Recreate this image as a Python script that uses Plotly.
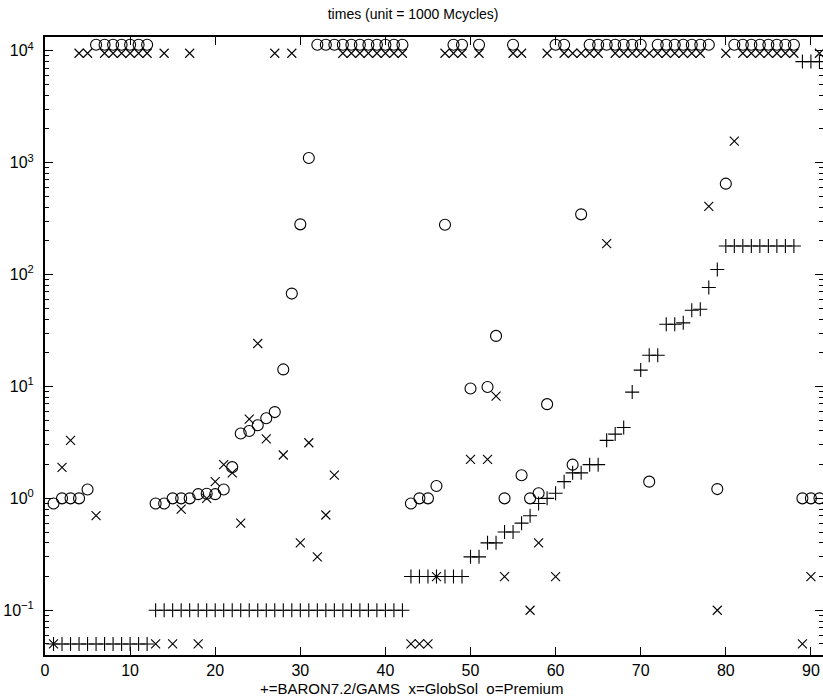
import plotly.graph_objects as go

problems = list(range(1, 92))

baron = [
    0.05, 0.05, 0.05, 0.05, 0.05, 0.05, 0.05, 0.05, 0.05, 0.05,   # 1-10
    0.05, 0.05, 0.1, 0.1, 0.1, 0.1, 0.1, 0.1, 0.1, 0.1,           # 11-20
    0.1, 0.1, 0.1, 0.1, 0.1, 0.1, 0.1, 0.1, 0.1, 0.1,             # 21-30
    0.1, 0.1, 0.1, 0.1, 0.1, 0.1, 0.1, 0.1, 0.1, 0.1,             # 31-40
    0.1, 0.1, 0.2, 0.2, 0.2, 0.2, 0.2, 0.2, 0.2, 0.3,             # 41-50
    0.3, 0.4, 0.4, 0.5, 0.5, 0.6, 0.7, 0.9, 1.0, 1.11,            # 51-60
    1.41, 1.69, 1.69, 2.0, 2.0, 3.3, 3.75, 4.3, 8.9, 14,          # 61-70
    19, 19, 36, 36, 37, 48, 49, 76.5, 111, 180,                   # 71-80
    180, 180, 180, 180, 180, 180, 180, 180, 8000, 8000,           # 81-90
    8000,                                                         # 91
]

globsol = [
    0.05, 1.89, 3.3, 9500, 9500, 0.70, 9500, 9500, 9500, 9500,    # 1-10
    9500, 9500, 0.05, 9500, 0.05, 0.80, 9500, 0.05, 1.0, 1.41,    # 11-20
    2.0, 1.69, 0.60, 5.1, 24.2, 3.4, 9500, 2.44, 9500, 0.40,      # 21-30
    3.14, 0.30, 0.71, 1.61, 9500, 9500, 9500, 9500, 9500, 9500,   # 31-40
    9500, 9500, 0.05, 0.05, 0.05, 0.2, 9500, 9500, 9500, 2.23,    # 41-50
    9500, 2.23, 8.2, 0.2, 9500, 9500, 0.1, 0.40, 9500, 0.2,       # 51-60
    9500, 9500, 9500, 9500, 9500, 189, 9500, 9500, 9500, 9500,    # 61-70
    9500, 9500, 9500, 9500, 9500, 9500, 9500, 407, 0.1, 9500,     # 71-80
    1560, 9500, 9500, 9500, 9500, 9500, 9500, 9500, 0.05, 0.2,    # 81-90
    9500,                                                         # 91
]

premium = [
    0.90, 1.0, 1.0, 1.0, 1.2, 11300, 11300, 11300, 11300, 11300,  # 1-10
    11300, 11300, 0.9, 0.9, 1.0, 1.0, 1.0, 1.09, 1.1, 1.09,       # 11-20
    1.2, 1.9, 3.8, 4.0, 4.5, 5.2, 5.9, 14.2, 67.6, 281,           # 21-30
    1099, 11300, 11300, 11300, 11300, 11300, 11300, 11300, 11300, 11300,  # 31-40
    11300, 11300, 0.9, 1.0, 1.0, 1.29, 279, 11300, 11300, 9.6,    # 41-50
    11300, 9.9, 28.3, 1.0, 11300, 1.61, 1.0, 1.11, 6.95, 11300,   # 51-60
    11300, 2.0, 345, 11300, 11300, 11300, 11300, 11300, 11300, 11300,  # 61-70
    1.41, 11300, 11300, 11300, 11300, 11300, 11300, 11300, 1.21, 649,  # 71-80
    11300, 11300, 11300, 11300, 11300, 11300, 11300, 11300, 1.0, 1.0,  # 81-90
    1.0,                                                          # 91
]

x_ticks = [0, 10, 20, 30, 40, 50, 60, 70, 80, 90]
y_ticks = [0.1, 1, 10, 100, 1000, 10000]
y_tick_labels = ["10<sup>−1</sup>", "10<sup>0</sup>", "10<sup>1</sup>",
                 "10<sup>2</sup>", "10<sup>3</sup>", "10<sup>4</sup>"]

minor_vals = []
for dec in [0.01, 0.1, 1, 10, 100, 1000, 10000]:
    for m in range(2, 10):
        minor_vals.append(dec * m)

FONT = "Liberation Sans, Arial, Helvetica, sans-serif"

fig = go.Figure()
fig.add_trace(go.Scatter(
    x=problems, y=baron, mode="markers", name="BARON7.2/GAMS",
    marker=dict(symbol="cross-thin-open", size=10, color="black",
                line=dict(width=1.1, color="black")),
))
fig.add_trace(go.Scatter(
    x=problems, y=globsol, mode="markers", name="GlobSol",
    marker=dict(symbol="x-thin-open", size=9, color="black",
                line=dict(width=1.1, color="black")),
))
fig.add_trace(go.Scatter(
    x=problems, y=premium, mode="markers", name="Premium",
    marker=dict(symbol="circle-open", size=11, color="black",
                line=dict(width=1.1, color="black")),
))

fig.update_layout(
    width=823, height=699,
    margin=dict(l=45, r=0, t=37, b=44, autoexpand=False),
    paper_bgcolor="white", plot_bgcolor="white",
    showlegend=False,
    font=dict(family=FONT, size=16, color="black"),
    title=dict(text="times (unit = 1000 Mcycles)", x=0.502, xref="container",
               xanchor="center", y=1 - 14 / 699, yref="container",
               yanchor="middle", font=dict(family=FONT, size=14, color="black")),
    xaxis=dict(
        range=[0, 91.42], tickmode="array", tickvals=x_ticks,
        ticks="inside", ticklen=8, tickwidth=1, tickcolor="black",
        showline=True, linecolor="black", linewidth=2, mirror="allticks",
        showgrid=False, zeroline=False, automargin=False,
        tickfont=dict(family=FONT, size=16, color="black"),
    ),
    yaxis=dict(
        type="log", range=[-1.40, 4.123],
        tickmode="array", tickvals=y_ticks, ticktext=y_tick_labels,
        ticks="inside", ticklen=8, tickwidth=1, tickcolor="black",
        minor=dict(tickmode="array", tickvals=minor_vals, ticks="inside",
                   ticklen=4, tickwidth=1, tickcolor="black", showgrid=False),
        showline=True, linecolor="black", linewidth=2, mirror="allticks",
        showgrid=False, zeroline=False, automargin=False,
        ticklabelstandoff=6,
        tickfont=dict(family=FONT, size=16, color="black"),
    ),
    annotations=[dict(
        text="+=BARON7.2/GAMS  x=GlobSol  o=Premium",
        xref="paper", yref="paper", x=(411.5 - 45) / 778, y=-(688 - 655) / 618,
        xanchor="center", yanchor="middle", showarrow=False,
        font=dict(family=FONT, size=15, color="black"),
    )],
)

fig.write_html(
    "out.html",
    config={"displayModeBar": False},
    post_script="document.body.style.margin='0';document.body.style.padding='0';"
                "document.documentElement.style.overflow='hidden';",
)
